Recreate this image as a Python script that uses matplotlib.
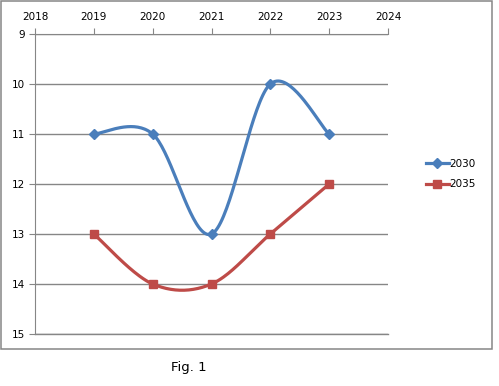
import numpy as np
import matplotlib
matplotlib.use("Agg")
import matplotlib.pyplot as plt
from matplotlib.patches import Rectangle

years = [2019, 2020, 2021, 2022, 2023]
s2030 = [11, 11, 13, 10, 11]
s2035 = [13, 14, 14, 13, 12]
xticks = [2018, 2019, 2020, 2021, 2022, 2023, 2024]
yticks = [9, 10, 11, 12, 13, 14, 15]


def smooth(xs, ys, n=40):
    # Excel-style smoothed line: cardinal spline through the points
    p = np.column_stack([xs, ys]).astype(float)
    p = np.vstack([p[0], p, p[-1]])
    out = []
    for i in range(1, len(p) - 2):
        p0, p1, p2, p3 = p[i - 1], p[i], p[i + 1], p[i + 2]
        c1 = p1 + (p2 - p0) / 6
        c2 = p2 - (p3 - p1) / 6
        t = np.linspace(0, 1, n)[:, None]
        seg = ((1 - t) ** 3) * p1 + 3 * ((1 - t) ** 2) * t * c1 + 3 * (1 - t) * t ** 2 * c2 + t ** 3 * p2
        out.append(seg if i == 1 else seg[1:])
    out = np.vstack(out)
    return out[:, 0], out[:, 1]


fig = plt.figure(figsize=(4.99, 3.86), dpi=100)
grey = "#868686"
fig.patches.append(Rectangle((1 / 499, 37 / 386), 491 / 499, 348 / 386, transform=fig.transFigure,
                             fill=False, edgecolor=grey, lw=1.1))

ax = fig.add_axes([35 / 499, 52 / 386, 353 / 499, 300 / 386])
blue = "#4A7EBB"
red = "#BE4B48"

sx, sy = smooth(years, s2030)
ax.plot(sx, sy, color=blue, lw=2.3, zorder=3)
ax.plot(years, s2030, ls="none", marker="D", ms=5, color=blue, zorder=4)
ax.plot([], [], color=blue, lw=2.3, marker="D", ms=5, label="2030")

sx, sy = smooth(years, s2035)
ax.plot(sx, sy, color=red, lw=2.3, zorder=3)
ax.plot(years, s2035, ls="none", marker="s", ms=6, color=red, zorder=4)
ax.plot([], [], color=red, lw=2.3, marker="s", ms=6, label="2035")

ax.set_xlim(2018, 2024)
ax.set_ylim(15, 9)
ax.set_xticks(xticks)
ax.set_yticks(yticks)
ax.xaxis.tick_top()
ax.tick_params(axis="both", direction="out", length=4, color=grey, labelsize=7.5, pad=3)
ax.tick_params(axis="x", pad=5)
for s in ["right", "bottom"]:
    ax.spines[s].set_visible(False)
for s in ["top", "left"]:
    ax.spines[s].set_color(grey)
ax.yaxis.grid(True, color=grey, lw=1)
ax.axhline(yticks[-1], color=grey, lw=1, clip_on=False, zorder=0.5)
ax.set_axisbelow(True)

ax.legend(loc="center left", bbox_to_anchor=(1.08, 0.533), frameon=False, fontsize=7.5,
          handlelength=2.2, handletextpad=0.1, labelspacing=1.0)

fig.text(189 / 499, 1 - 367 / 386, "Fig. 1", ha="center", va="center", fontsize=9.5)

fig.savefig("out.png", dpi=100)
